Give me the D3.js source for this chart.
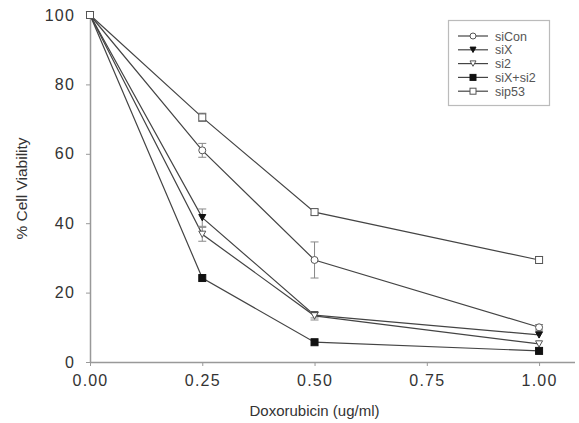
<!DOCTYPE html>
<html>
<head>
<meta charset="utf-8">
<script src="https://cdn.jsdelivr.net/npm/d3@7"></script>
<style>
  body { margin: 0; background: #fff; }
  text { font-family: "Liberation Sans", Arial, sans-serif; }
</style>
</head>
<body>
<div id="chart"></div>
<script>
const doses = [0, 0.25, 0.5, 1.0];
const xTicks = [0, 0.25, 0.5, 0.75, 1.0];
const yTicks = [0, 20, 40, 60, 80, 100];

const seriesNames = ["siCon", "siX", "si2", "siX+si2", "sip53"];
const siCon = [100, 61, 29.4, 10];
const siX = [100, 41.6, 13.5, 7.8];
const si2 = [100, 36.8, 13.3, 5.2];
const siXsi2 = [100, 24.2, 5.7, 3.2];
const sip53 = [100, 70.5, 43.2, 29.4];

const siConErr = [0, 2, 5.2, 0.8];
const siXErr = [0, 2.5, 0.8, 0.5];
const si2Err = [0, 2, 1.2, 0.5];
const siXsi2Err = [0, 0.5, 0.5, 0.4];
const sip53Err = [0, 1.2, 0.8, 1];

const markers = ["circle", "triDown", "triDown", "square", "square"];
const filled = [false, true, false, true, false];

const series = [siCon, siX, si2, siXsi2, sip53].map((vals, i) => ({
    name: seriesNames[i],
    marker: markers[i],
    filled: filled[i],
    values: vals.map((v, j) => ({
        x: doses[j], y: v,
        e: [siConErr, siXErr, si2Err, siXsi2Err, sip53Err][i][j]
    }))
}));

const W = 579, H = 423;
const x = d3.scaleLinear().domain([0, 1.08]).range([90, 575]);
const y = d3.scaleLinear().domain([0, 100]).range([362, 15]);

const svg = d3.select("#chart").append("svg")
    .attr("width", W).attr("height", H);

const axisColor = "#999";
const lineColor = "#444";

// axes
const xAxis = svg.append("g")
    .attr("transform", `translate(0,${y(0)})`)
    .call(d3.axisBottom(x).tickValues(xTicks).tickFormat(d3.format(".2f")).tickSize(4).tickPadding(9));
const yAxis = svg.append("g")
    .attr("transform", `translate(${x(0)},0)`)
    .call(d3.axisLeft(y).tickValues(yTicks).tickSize(4).tickPadding(11));

[xAxis, yAxis].forEach(a => {
    a.select(".domain").attr("stroke", axisColor).attr("stroke-width", 1.5);
    a.selectAll(".tick line").attr("stroke", axisColor);
    a.selectAll(".tick text").attr("fill", "#333")
        .style("font-size", "16px").style("letter-spacing", "1.2px");
});
xAxis.select(".domain").attr("d", `M${x(0)},0.5H${x.range()[1]}`);
yAxis.select(".domain").attr("d", `M0.5,${y(0)}V${y(100)}`);

svg.append("text")
    .attr("x", (x(0) + x(1)) / 2).attr("y", 416)
    .attr("text-anchor", "middle")
    .style("font-size", "15px").attr("fill", "#333")
    .text("Doxorubicin (ug/ml)");

svg.append("text")
    .attr("transform", `translate(27,${(y(0) + y(100)) / 2}) rotate(-90)`)
    .attr("text-anchor", "middle")
    .style("font-size", "15.5px").attr("fill", "#333")
    .text("% Cell Viability");

function drawMarker(g, type, isFilled, cx, cy, size) {
    const fill = isFilled ? "#111" : "#fff";
    const s = size;
    let m;
    if (type === "circle") {
        m = g.append("circle").attr("cx", cx).attr("cy", cy).attr("r", s / 2);
    } else if (type === "square") {
        m = g.append("rect").attr("x", cx - s / 2).attr("y", cy - s / 2).attr("width", s).attr("height", s);
    } else {
        const h = s * 0.9;
        m = g.append("path")
            .attr("d", `M${cx - s / 2},${cy - h / 2}L${cx + s / 2},${cy - h / 2}L${cx},${cy + h / 2}Z`);
    }
    m.attr("fill", fill).attr("stroke", isFilled ? "#111" : "#555").attr("stroke-width", 1);
}

const line = d3.line().x(d => x(d.x)).y(d => y(d.y));

// lines first
series.forEach(s => {
    svg.append("path")
        .datum(s.values)
        .attr("fill", "none")
        .attr("stroke", lineColor)
        .attr("stroke-width", 1.2)
        .attr("d", line);
});

// error bars
series.forEach(s => {
    const g = svg.append("g").attr("stroke", "#888").attr("stroke-width", 1);
    s.values.filter(d => d.e > 0.6).forEach(d => {
        const cx = x(d.x);
        g.append("line").attr("x1", cx).attr("x2", cx).attr("y1", y(d.y + d.e)).attr("y2", y(d.y - d.e));
        g.append("line").attr("x1", cx - 4).attr("x2", cx + 4).attr("y1", y(d.y + d.e)).attr("y2", y(d.y + d.e));
        g.append("line").attr("x1", cx - 4).attr("x2", cx + 4).attr("y1", y(d.y - d.e)).attr("y2", y(d.y - d.e));
    });
});

// markers
series.forEach(s => {
    const g = svg.append("g");
    s.values.forEach(d => drawMarker(g, s.marker, s.filled, x(d.x), y(d.y), 7));
});

// legend
const legend = svg.append("g");
legend.append("rect")
    .attr("x", 448.5).attr("y", 20.5).attr("width", 101).attr("height", 85)
    .attr("fill", "#fff").attr("stroke", "#bbb").attr("stroke-width", 1.2);

series.forEach((s, i) => {
    const ly = 36 + i * 13.8;
    legend.append("line").attr("x1", 458).attr("x2", 488).attr("y1", ly).attr("y2", ly)
        .attr("stroke", lineColor).attr("stroke-width", 1.2);
    drawMarker(legend, s.marker, s.filled, 473, ly, 6);
    legend.append("text").attr("x", 495).attr("y", ly + 4.5)
        .style("font-size", "12.5px").attr("fill", "#555")
        .text(s.name);
});
</script>
</body>
</html>
